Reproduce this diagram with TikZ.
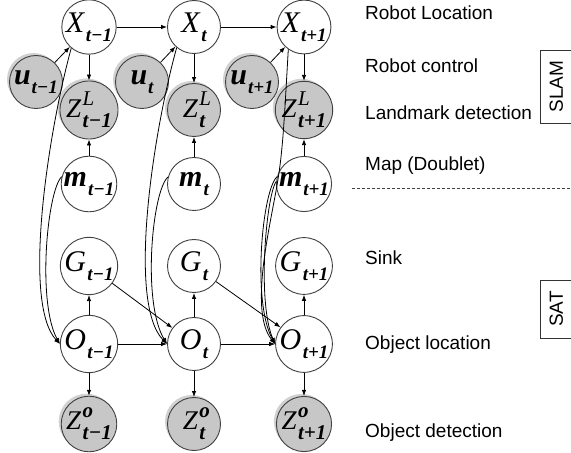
\documentclass[tikz,border=0pt]{standalone}
\usepackage{fontspec}
\setmainfont{Liberation Sans}
\newfontfamily\tnr{Liberation Serif}
\usetikzlibrary{arrows.meta,shadows}
\newcommand\mfnt{\fontsize{30}{30}\selectfont\tnr\itshape}
\newcommand\sbfnt{\fontsize{19}{19}\selectfont\tnr\bfseries\itshape}
\newcommand\zfnt{\fontsize{27}{27}\selectfont\tnr\itshape}
\newcommand\zsfnt{\fontsize{21}{21}\selectfont\tnr\itshape}
\newcommand\vv[2]{{\mfnt #1}\kern1.5pt\raisebox{-9pt}{\sbfnt #2}}
\newcommand\vb[2]{{\mfnt\bfseries #1}\kern1pt\raisebox{-9pt}{\sbfnt #2}}
\newcommand\vz[2]{{\zfnt Z}\kern1.5pt\rlap{\raisebox{12pt}{\zsfnt #1}}\raisebox{-10pt}{\zsfnt\bfseries #2}}
\tikzset{
  var/.style={circle,draw=black!75,line width=0.9pt,fill=white,minimum size=53pt,inner sep=0pt},
  obs/.style={var,fill=black!22,drop shadow={shadow xshift=-2.5pt,shadow yshift=2.5pt,opacity=0.3,fill=black!60}},
  edge/.style={line width=0.8pt,-{Latex[length=6pt,width=4.5pt]}},
  lab/.style={anchor=base west,inner sep=0pt,font=\fontsize{19}{22}\selectfont},
  boxlab/.style={draw=black!80,line width=0.8pt,minimum width=32pt,inner sep=0pt,font=\fontsize{19}{22}\selectfont}
}
\begin{document}
\begin{tikzpicture}[x=1pt,y=1pt]
\useasboundingbox (0,0) rectangle (571,453);
% column 1
\node[var] (X1) at (89,426) {\vv{X}{t−1}};
\node[obs] (u1) at (36,371) {\vb{u}{t−1}};
\node[obs] (L1) at (89,343) {\vz{L}{t−1}};
\node[var] (m1) at (89,269) {\vb{m}{t−1}};
\node[var] (G1) at (89,187) {\vv{G}{t−1}};
\node[var] (O1) at (89,109) {\vv{O}{t−1}};
\node[obs] (D1) at (89,29) {\vz{\bfseries o}{t−1}};
% column 2
\node[var] (X2) at (194,426) {\vv{X}{t}};
\node[obs] (u2) at (142,371) {\vb{u}{t}};
\node[obs] (L2) at (194,343) {\vz{L}{t}};
\node[var] (m2) at (194,269) {\vb{m}{t}};
\node[var] (G2) at (194,187) {\vv{G}{t}};
\node[var] (O2) at (194,109) {\vv{O}{t}};
\node[obs] (D2) at (194,29) {\vz{\bfseries o}{t}};
% column 3
\node[var] (X3) at (304,426) {\vv{X}{t+1}};
\node[obs] (u3) at (252,371) {\vb{u}{t+1}};
\node[obs] (L3) at (304,343) {\vz{L}{t+1}};
\node[var] (m3) at (304,269) {\vb{m}{t+1}};
\node[var] (G3) at (304,187) {\vv{G}{t+1}};
\node[var] (O3) at (304,109) {\vv{O}{t+1}};
\node[obs] (D3) at (304,29) {\vz{\bfseries o}{t+1}};
% straight edges
\draw[edge] (X1) -- (X2);
\draw[edge] (X2) -- (X3);
\draw[edge] (O1) -- (O2);
\draw[edge] (O2) -- (O3);
\foreach \i in {1,2,3}{
  \draw[edge] (u\i) -- (X\i);
  \draw[edge] (X\i) -- (L\i);
  \draw[edge] (m\i) -- (L\i);
  \draw[edge] (O\i) -- (G\i);
  \draw[edge] (O\i) -- (D\i);
}
\draw[edge] (G1) -- (O2);
\draw[edge] (G2) -- (O3);
% curved edges column 1
\draw[edge] (X1.230) .. controls (48,320) and (22,150) .. (O1.west);
\draw[edge] (m1.165) .. controls (47,262) and (37,150) .. (O1.west);
% column 2
\draw[edge] (X2.230) .. controls (153,320) and (127,150) .. (O2.west);
\draw[edge] (m2.165) .. controls (152,262) and (142,150) .. (O2.west);
% column 3
\coordinate (k3) at (276,262);
\draw[edge] (X3.235) .. controls (284,330) and (283,300) .. (k3) .. controls (268,218) and (250,140) .. (O3.west);
\draw[edge] (m3.165) .. controls (262,262) and (252,150) .. (O3.west);
\draw[edge] (m3.175) .. controls (266,256) and (257,150) .. (O3.west);
% labels
\node[lab] (t1) at (365,433) {Robot Location};
\node[lab] (t2) at (365,380) {Robot control};
\node[lab] (t3) at (365,333) {Landmark detection};
\node[lab] (t4) at (365,282) {Map (Doublet)};
\node[lab] (t5) at (365,188) {Sink};
\node[lab] (t6) at (365,103) {Object location};
\node[lab] (t7) at (365,15) {Object detection};
\coordinate (dl) at (352,265);
\coordinate (dr) at (571,265);
\draw[dashed,dash pattern=on 3pt off 2pt,line width=0.7pt,black!75] (dl) -- (dr);
\node[boxlab,anchor=west,minimum height=73pt] (slam) at (540,366.5) {\rotatebox{90}{SLAM}};
\node[boxlab,anchor=west,minimum height=58pt] (sat) at (540,144) {\rotatebox{90}{SAT}};
\end{tikzpicture}
\end{document}
